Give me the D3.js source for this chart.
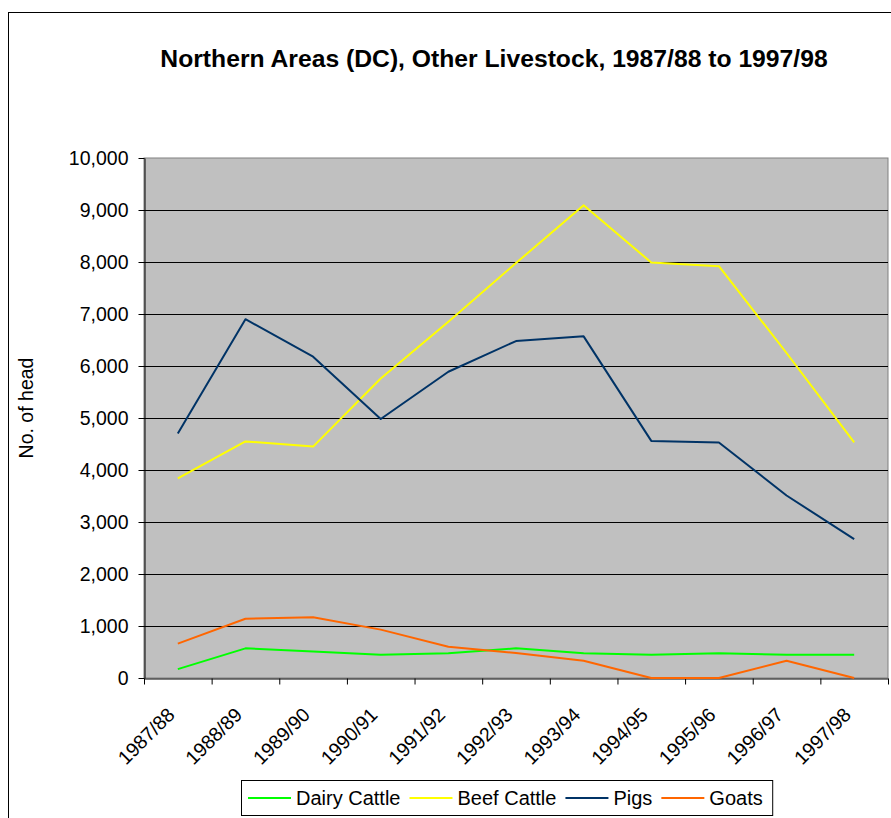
<!DOCTYPE html>
<html>
<head>
<meta charset="utf-8">
<script src="https://cdn.jsdelivr.net/npm/d3@7"></script>
<style>
  html, body { margin: 0; padding: 0; background: #fff; }
  svg { display: block; font-family: "Liberation Sans", Arial, sans-serif; }
</style>
</head>
<body>
<svg id="chart" width="891" height="818"></svg>
<script>
const categories = ["1987/88","1988/89","1989/90","1990/91","1991/92","1992/93","1993/94","1994/95","1995/96","1996/97","1997/98"];
const dairyCattle = [170, 570, 510, 445, 475, 570, 475, 445, 475, 445, 445];
const beefCattle  = [3840, 4550, 4450, 5760, 6850, 7980, 9090, 7990, 7920, 6250, 4530];
const pigs        = [4700, 6900, 6180, 4980, 5890, 6480, 6570, 4560, 4530, 3510, 2670];
const goats       = [660, 1140, 1170, 930, 600, 480, 330, 0, 0, 330, 0];
const yTicks = [0,1000,2000,3000,4000,5000,6000,7000,8000,9000,10000];
const seriesNames = ["Dairy Cattle","Beef Cattle","Pigs","Goats"];
const seriesColors = ["#00FF00","#FFFF00","#003366","#FF6600"];
const seriesValues = [dairyCattle, beefCattle, pigs, goats];
const titleText = "Northern Areas (DC), Other Livestock, 1987/88 to 1997/98";
const yTitle = "No. of head";

const svg = d3.select("#chart");
const L = 144, R = 888, T = 158, B = 678;

// outer chart border
svg.append("rect").attr("x", 8.5).attr("y", 12.5).attr("width", 900).attr("height", 900)
  .attr("fill", "#fff").attr("stroke", "#000").attr("stroke-width", 1);

const x = d3.scaleBand().domain(categories).range([L, R]).padding(0);
const xi = d3.scaleLinear().domain([0, categories.length]).range([L, R]);
const y = d3.scaleLinear().domain([0, 10000]).range([B, T]);

// plot area
svg.append("rect").attr("x", L).attr("y", T).attr("width", R - L).attr("height", B - T)
  .attr("fill", "#C0C0C0").attr("stroke", "#808080").attr("stroke-width", 1);

// gridlines
svg.append("g").selectAll("line").data(yTicks.filter(v => v > 0 && v < 10000)).join("line")
  .attr("x1", L).attr("x2", R)
  .attr("y1", d => Math.round(y(d)) + 0.5).attr("y2", d => Math.round(y(d)) + 0.5)
  .attr("stroke", "#000").attr("stroke-width", 1);

// y axis
const yAxis = svg.append("g").attr("transform", `translate(${L + 0.5},0)`)
  .call(d3.axisLeft(y).tickValues(yTicks).tickFormat(d3.format(",")).tickSize(6).tickPadding(10).tickSizeOuter(0));
yAxis.selectAll("path,line").attr("stroke", "#000");
yAxis.selectAll("text").attr("font-size", "19.5px").attr("fill", "#000")
  .attr("font-family", "'Liberation Sans', Arial, sans-serif");

// x axis: boundary ticks
const xAxis = svg.append("g").attr("transform", `translate(0,${B + 0.5})`)
  .call(d3.axisBottom(xi).tickValues(d3.range(categories.length + 1)).tickFormat("").tickSize(6).tickSizeOuter(0));
xAxis.selectAll("path,line").attr("stroke", "#000");

// x labels
svg.append("g").selectAll("text").data(categories).join("text")
  .attr("transform", d => `translate(${x(d) + x.bandwidth() / 2 - 2},${716}) rotate(-45)`)
  .attr("text-anchor", "end").attr("font-size", "19.5px").attr("fill", "#000")
  .text(d => d);

// lines
const line = d3.line().x((d, i) => x(categories[i]) + x.bandwidth() / 2).y(d => y(d));
svg.append("g").selectAll("path").data(seriesValues).join("path")
  .attr("d", d => line(d)).attr("fill", "none")
  .attr("stroke", (d, i) => seriesColors[i]).attr("stroke-width", 2)
  .attr("stroke-linejoin", "round");

// title
svg.append("text").attr("x", 494).attr("y", 67).attr("text-anchor", "middle")
  .attr("font-size", "24.7px").attr("font-weight", "bold").text(titleText);

// y title
svg.append("text").attr("transform", `translate(33,408) rotate(-90)`).attr("text-anchor", "middle")
  .attr("font-size", "19.5px").text(yTitle);

// legend
const lg = svg.append("g");
const box = lg.append("rect").attr("y", 780.5).attr("height", 35).attr("fill", "#fff").attr("stroke", "#000");
let cx = 248;
seriesNames.forEach((n, i) => {
  lg.append("line").attr("x1", cx).attr("x2", cx + 43).attr("y1", 798).attr("y2", 798)
    .attr("stroke", seriesColors[i]).attr("stroke-width", 2);
  const t = lg.append("text").attr("x", cx + 48).attr("y", 805).attr("font-size", "20px").text(n);
  cx += 48 + t.node().getComputedTextLength() + 9;
});
box.attr("x", 241.5).attr("width", cx - 241.5 + 1);
</script>
</body>
</html>
